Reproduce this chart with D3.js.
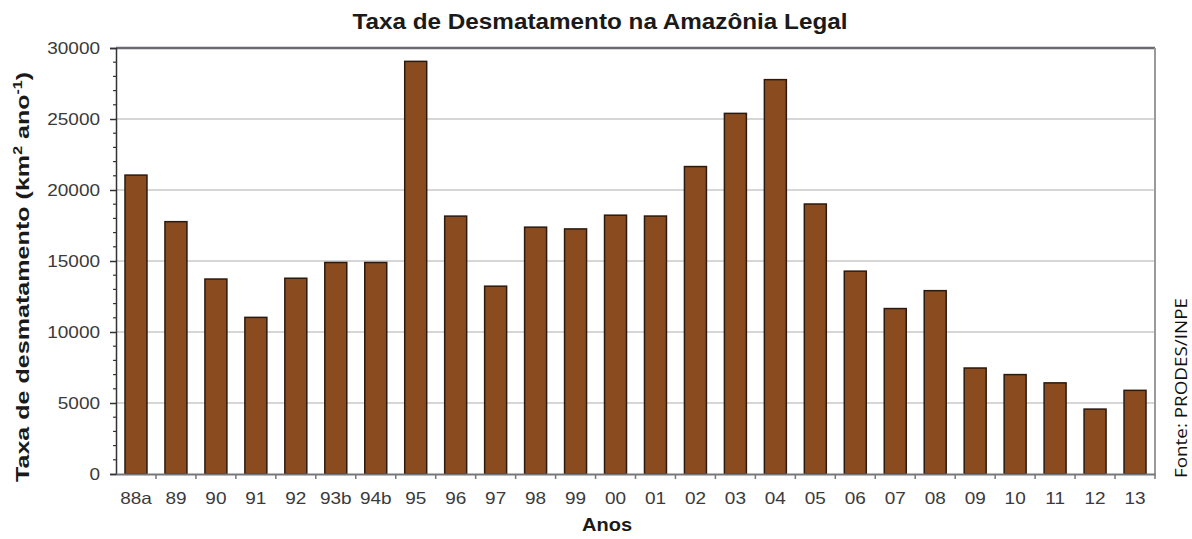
<!DOCTYPE html>
<html><head><meta charset="utf-8">
<script src="https://cdn.jsdelivr.net/npm/d3@7"></script>
<style>body{margin:0;background:#fff}svg{display:block}</style>
</head><body>
<svg id="c" width="1192" height="539"></svg>
<script>
const categories = ["88a","89","90","91","92","93b","94b","95","96","97","98","99","00","01","02","03","04","05","06","07","08","09","10","11","12","13"];
const values = [21050,17770,13730,11030,13786,14896,14896,29059,18161,13227,17383,17259,18226,18165,21651,25396,27772,19014,14286,11651,12911,7464,7000,6418,4571,5891];
const yTicks = [0,5000,10000,15000,20000,25000,30000];

const FONT = "Liberation Sans, Arial, sans-serif";
const svg = d3.select("#c");
const m = {l:116, r:1155, t:48, b:474};
const x = d3.scaleBand().domain(categories).range([m.l, m.r]).paddingInner(0.45).paddingOuter(0.225);
const y = d3.scaleLinear().domain([0,30000]).range([m.b, m.t]);

function stretch(sel, f){ sel.each(function(){ const L=this.getComputedTextLength(); d3.select(this).attr("textLength",L*f).attr("lengthAdjust","spacingAndGlyphs"); }); }
function fitTo(node, len){ d3.select(node).attr("textLength",len).attr("lengthAdjust","spacingAndGlyphs"); }

// gridlines
svg.append("g").selectAll("line").data(yTicks.filter(d=>d>0&&d<30000)).join("line")
  .attr("x1",m.l).attr("x2",m.r).attr("y1",d=>y(d)).attr("y2",d=>y(d))
  .attr("stroke","#c8c8c8").attr("stroke-width",1.5);

// bars
svg.append("g").selectAll("rect").data(values).join("rect")
  .attr("x",(d,i)=>x(categories[i])).attr("width",x.bandwidth())
  .attr("y",d=>y(d)).attr("height",d=>y(0)-y(d))
  .attr("fill","#8a4c1f").attr("stroke","#2a1a10").attr("stroke-width",1.5);

// frame top & right
svg.append("line").attr("x1",m.l).attr("x2",m.r).attr("y1",m.t).attr("y2",m.t).attr("stroke","#6a6a70").attr("stroke-width",2.5);
svg.append("line").attr("x1",m.r).attr("x2",m.r).attr("y1",m.t).attr("y2",m.b).attr("stroke","#9a9a9a").attr("stroke-width",2);

// y axis
const ya = svg.append("g").attr("transform",`translate(${m.l},0)`)
  .call(d3.axisLeft(y).tickValues(yTicks).tickSize(6).tickPadding(10).tickFormat(d3.format("d")));
ya.select(".domain").attr("stroke","#333").attr("stroke-width",1.5);
ya.selectAll(".tick line").attr("stroke","#333").attr("stroke-width",1.5);
ya.selectAll("text").attr("font-family",FONT).attr("font-size",16.5).attr("fill","#3a3a3a");
stretch(ya.selectAll("text"),1.15);
// minor ticks
svg.append("g").selectAll("line").data(d3.range(0,30001,1000).filter(d=>d%5000!==0)).join("line")
  .attr("x1",m.l-3).attr("x2",m.l).attr("y1",d=>y(d)).attr("y2",d=>y(d)).attr("stroke","#333").attr("stroke-width",1.2);

// x axis
const xa = svg.append("g").attr("transform",`translate(0,${m.b})`)
  .call(d3.axisBottom(x).tickSize(0).tickPadding(18));
xa.select(".domain").attr("stroke","#777").attr("stroke-width",2);
xa.selectAll("text").attr("font-family",FONT).attr("font-size",16.5).attr("fill","#3a3a3a");
stretch(xa.selectAll("text"),1.15);
const step = x.step();
svg.append("g").selectAll("line").data(d3.range(1,categories.length+1)).join("line")
  .attr("x1",i=>m.l+i*step).attr("x2",i=>m.l+i*step).attr("y1",m.b).attr("y2",m.b+5)
  .attr("stroke","#777").attr("stroke-width",1.5);

// titles
const t = svg.append("text").attr("x",600).attr("y",29).attr("text-anchor","middle")
  .attr("font-family",FONT).attr("font-weight","bold").attr("font-size",22).attr("fill","#1a1a1a")
  .text("Taxa de Desmatamento na Amazônia Legal");
fitTo(t.node(),495);
const xl = svg.append("text").attr("x",607).attr("y",531).attr("text-anchor","middle")
  .attr("font-family",FONT).attr("font-weight","bold").attr("font-size",18).attr("fill","#1a1a1a")
  .text("Anos");
fitTo(xl.node(),50);
const yl = svg.append("text").attr("transform","translate(29,277) rotate(-90)").attr("text-anchor","middle")
  .attr("font-family",FONT).attr("font-weight","bold").attr("font-size",19).attr("fill","#1a1a1a");
yl.append("tspan").text("Taxa de desmatamento (km");
yl.append("tspan").attr("font-size",12).attr("dy",-7).text("2");
yl.append("tspan").attr("dy",7).text(" ano");
yl.append("tspan").attr("font-size",12).attr("dy",-7).text("-1");
yl.append("tspan").attr("dy",7).text(")");
fitTo(yl.node(),410);
const src = svg.append("text").attr("transform","translate(1187,388) rotate(-90)").attr("text-anchor","middle")
  .attr("font-family","Open Sans, Noto Sans, sans-serif").attr("font-size",17).attr("fill","#111")
  .text("Fonte: PRODES/INPE");
fitTo(src.node(),180);
</script>
</body></html>
